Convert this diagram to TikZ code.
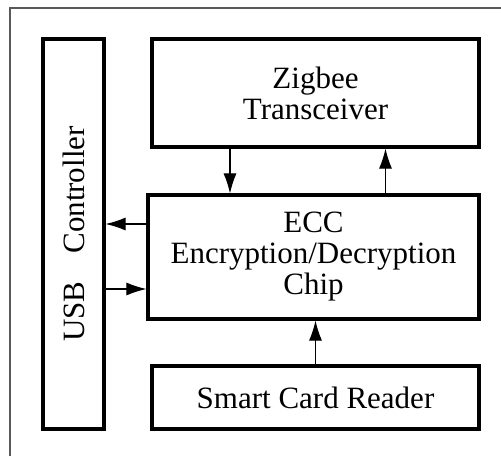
\documentclass[tikz,border=0pt]{standalone}
\usepackage{fontspec}
\setmainfont{Liberation Serif}
\usetikzlibrary{arrows.meta}

\begin{document}
\begin{tikzpicture}[x=1pt, y=-1pt,
    block/.style={draw, line width=3.2pt, align=center, inner sep=0pt,
                  font=\fontsize{31}{31}\selectfont},
    flow/.style={line width=1.1pt, -{Latex[length=20pt, width=13pt]}}]

% Page size of the original figure
\useasboundingbox (0,0) rectangle (501,456);

% Outer frame (right and bottom edges cut off)
\draw[black!65, line width=1.2pt] (10,456) -- (10,8) -- (501,8);

% Blocks
\node[block, minimum width=61pt, minimum height=390pt] (usb) at (73.5,234)
    {\rotatebox{90}{USB\hspace{0.9em}Controller}};
\node[block, minimum width=327pt, minimum height=108pt] (zig) at (315.5,93)
    {Zigbee\\Transceiver};
\node[block, minimum width=331pt, minimum height=124pt] (ecc) at (313.5,257)
    {ECC\\Encryption/Decryption\\Chip};
\node[block, minimum width=327pt, minimum height=63pt] (card) at (315.5,397.5)
    {Smart Card Reader};

% Zigbee <-> ECC
\draw[flow] ([xshift=-85.5pt]zig.south) -- ([xshift=-85.5pt]zig.south |- ecc.north);
\draw[flow] ([xshift=70pt]zig.south |- ecc.north) -- ([xshift=70pt]zig.south);

% ECC <-> USB
\draw[flow] ([yshift=33pt]ecc.west) -- ([yshift=33pt]ecc.west -| usb.east);
\draw[flow] ([yshift=-32pt]ecc.west -| usb.east) -- ([yshift=-32pt]ecc.west);

% Card reader -> ECC
\draw[flow] (card.north) -- (card.north |- ecc.south);

\end{tikzpicture}
\end{document}
